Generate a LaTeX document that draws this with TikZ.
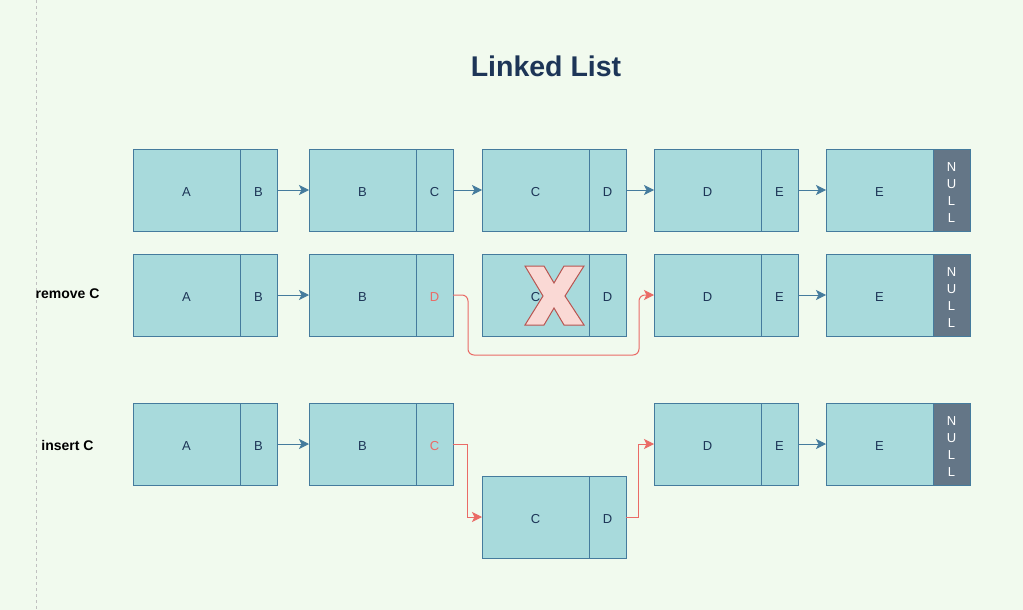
\documentclass[tikz,border=0pt]{standalone}
\usepackage{fontspec}
\setmainfont{Liberation Sans}
\usetikzlibrary{arrows.meta}
\definecolor{bg}{HTML}{F1FAEE}
\definecolor{cellfill}{HTML}{A8DADC}
\definecolor{cellline}{HTML}{457B9D}
\definecolor{celltext}{HTML}{1D3557}
\definecolor{nullfill}{HTML}{647687}
\definecolor{redline}{HTML}{EA6B66}
\definecolor{xfill}{HTML}{FAD9D5}
\definecolor{xline}{HTML}{B85450}
\definecolor{guide}{HTML}{C0C0C0}
\newcommand\elem[5]{%
  \node[datacell] (#1d) at (#2,#3) {#4};
  \node[ptrcell] (#1p) at (#1d.north east) {#5};
}
\newcommand\elemnull[4]{%
  \node[datacell] (#1d) at (#2,#3) {#4};
  \node[nullcell, label={[nulltext]center:N\\U\\L\\L}] (#1p) at (#1d.north east) {};
}
\begin{document}
\begin{tikzpicture}[x=1pt,y=-1pt,
  datacell/.style={draw=cellline, fill=cellfill, line width=1pt, minimum width=107pt,
    minimum height=82pt, anchor=north west, inner sep=0pt, outer sep=0pt, text=celltext,
    font=\fontsize{13}{15}\selectfont, text height=12pt, text depth=0pt},
  ptrcell/.style={datacell, minimum width=37pt},
  nullcell/.style={ptrcell, fill=nullfill},
  nulltext/.style={text=white, align=center, inner sep=0pt, yshift=-3pt,
    font=\fontsize{13}{17}\selectfont},
  link/.style={draw=cellline, line width=1pt, -{Stealth[length=10pt,width=10pt,inset=2.5pt]}},
  redlink/.style={link, draw=redline},
  rowlabel/.style={font=\bfseries\fontsize{14}{16}\selectfont, text=black, inner sep=0pt}
]
\fill[bg] (0,0) rectangle (1023,610);
\useasboundingbox (0,0) rectangle (1023,610);
\draw[guide, line width=1pt, dash pattern=on 3pt off 3pt] (36,0) -- (36,610);

\node[font=\bfseries\fontsize{28.5}{34}\selectfont, text=celltext] (title) at (546,66) {Linked List};

% row 1
\elem{a1}{133}{149}{A}{B}
\elem{b1}{309}{149}{B}{C}
\elem{c1}{482}{149}{C}{D}
\elem{d1}{654}{149}{D}{E}
\elemnull{e1}{826}{149}{E}
\draw[link] (a1p.east) -- (b1d.west);
\draw[link] (b1p.east) -- (c1d.west);
\draw[link] (c1p.east) -- (d1d.west);
\draw[link] (d1p.east) -- (e1d.west);

% row 2
\node[rowlabel] (lremove) at (67.5,294) {remove C};
\elem{a2}{133}{254}{A}{B}
\elem{b2}{309}{254}{B}{\textcolor{redline}{D}}
\elem{c2}{482}{254}{C}{D}
\elem{d2}{654}{254}{D}{E}
\elemnull{e2}{826}{254}{E}
\draw[link] (a2p.east) -- (b2d.west);
\draw[link] (d2p.east) -- (e2d.west);
\draw[redlink, rounded corners=6pt] (b2p.east) -- ++(15,0) -- ++(0,60) -| ([xshift=-15pt]d2d.west) -- (d2d.west);
\draw[draw=xline, fill=xfill, line width=1pt, line join=miter]
  (525,266) -- (544,266) -- (554,283) -- (564,266) -- (584,266) -- (565,296)
  -- (584,325) -- (564,325) -- (554,308) -- (544,325) -- (525,325) -- (543,296) -- cycle;

% row 3
\node[rowlabel] (linsert) at (67.5,445) {insert C};
\elem{a3}{133}{403}{A}{B}
\elem{b3}{309}{403}{B}{\textcolor{redline}{C}}
\elem{c3}{482}{476}{C}{D}
\elem{d3}{654}{403}{D}{E}
\elemnull{e3}{826}{403}{E}
\draw[link] (a3p.east) -- (b3d.west);
\draw[link] (d3p.east) -- (e3d.west);
\draw[redlink] (b3p.east) -- ++(14,0) |- (c3d.west);
\draw[redlink] (c3p.east) -- ++(12,0) |- (d3d.west);
\end{tikzpicture}
\end{document}
